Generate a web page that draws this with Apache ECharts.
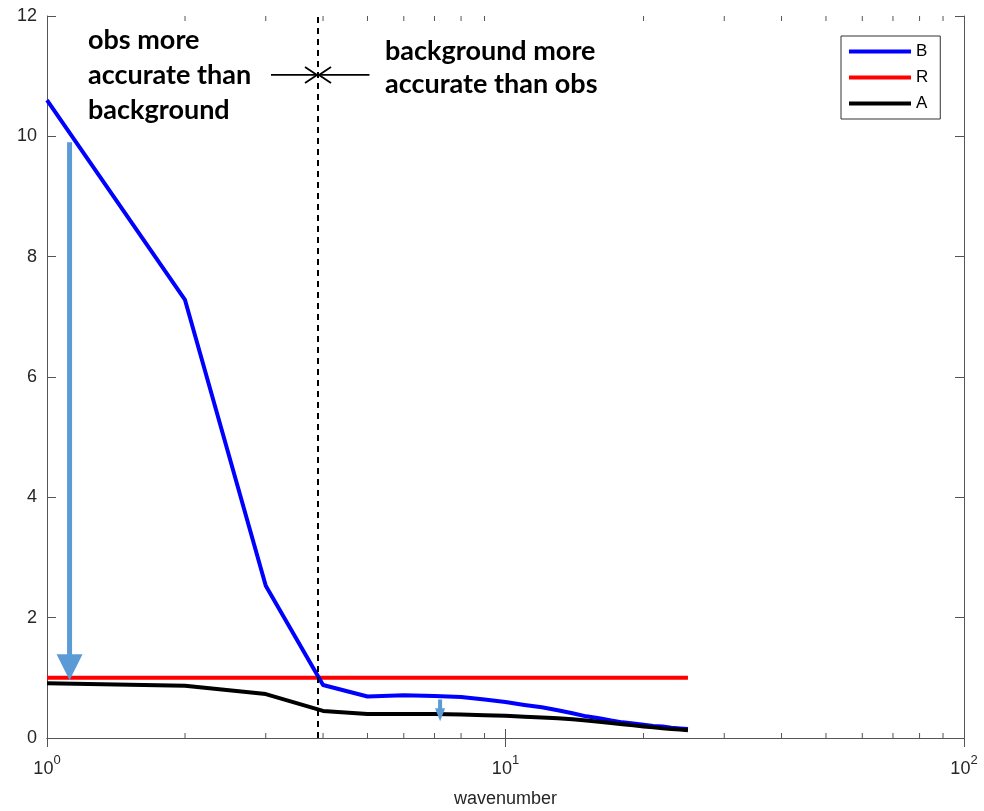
<!DOCTYPE html>
<html><head><meta charset="utf-8">
<script src="https://cdn.jsdelivr.net/npm/echarts@6/dist/echarts.min.js"></script>
<style>html,body{margin:0;padding:0;background:#fff}#c{width:984px;height:811px}</style>
</head><body><div id="c"></div>
<script>
// wavenumbers
const wavenumber = [1,2,3,4,5,6,7,8,9,10,11,12,13,14,15,16,17,18,19,20,21,22,23,24,25];
const seriesB = [10.6,7.28,2.53,0.88,0.69,0.71,0.70,0.68,0.64,0.60,0.55,0.51,0.46,0.41,0.36,0.33,0.29,0.26,0.24,0.22,0.20,0.19,0.17,0.16,0.15];
const seriesR = [1,1,1,1,1,1,1,1,1,1,1,1,1,1,1,1,1,1,1,1,1,1,1,1,1];
const seriesA = [0.91,0.87,0.73,0.45,0.40,0.40,0.40,0.39,0.38,0.37,0.355,0.34,0.33,0.31,0.29,0.27,0.25,0.23,0.21,0.19,0.18,0.16,0.15,0.14,0.13];
const yTicks = [0,2,4,6,8,10,12];
const minorTicks = [2,3,4,5,6,7,8,9,20,30,40,50,60,70,80,90];
const dividerX = 3.9;
// blue arrows: [x, yStart, yTip]
const blueArrows = [[1.12, 9.9, 0.96], [7.2, 0.64, 0.28]];
// annotation arrows at divider: [xFrom, xTo, y]
const annotArrows = [[3.08, 3.9, 11.02], [5.05, 3.9, 11.02]];
const legendNames = ['B','R','A'];

const chart = echarts.init(document.getElementById('c'));
const axisColor = '#555';
const labelColor = '#262626';
const pair = (xs, ys) => xs.map((x,i)=>[x, ys[i]]);

const option = {
  animation: false,
  grid: {left: 47, right: 20, top: 16, bottom: 73, show: false, containLabel: false, outerBoundsMode: 'none'},
  legend: {
    data: legendNames, orient: 'vertical', left: 841, top: 36,
    itemWidth: 62, itemHeight: 4, itemGap: 9, icon: 'rect',
    borderColor: '#333', borderWidth: 1, padding: [7, 12, 7, 8],
    textStyle: {fontFamily: 'Liberation Sans', fontSize: 17, color: '#000'},
    backgroundColor: '#fff'
  },
  xAxis: [{
    type: 'log', logBase: 10, min: 1, max: 100, position: 'bottom',
    name: 'wavenumber', nameLocation: 'middle', nameGap: 52,
    nameTextStyle: {fontFamily: 'Liberation Sans', fontSize: 18, color: labelColor},
    axisLine: {lineStyle: {color: axisColor, width: 1}},
    axisTick: {inside: true, length: 9, lineStyle: {color: axisColor}},
    splitLine: {show: false},
    axisLabel: {
      margin: 16,
      formatter: v => '{b|10}{s|' + Math.round(Math.log10(v)) + '}',
      rich: {
        b: {fontFamily: 'Liberation Sans', fontSize: 18, color: labelColor, verticalAlign: 'bottom', lineHeight: 24},
        s: {fontFamily: 'Liberation Sans', fontSize: 13, color: labelColor, verticalAlign: 'top', lineHeight: 24, padding: [0,0,10,0]}
      }
    }
  },{
    type: 'log', logBase: 10, min: 1, max: 100, position: 'top',
    axisLine: {lineStyle: {color: axisColor, width: 1}},
    axisTick: {inside: true, length: 9, lineStyle: {color: axisColor}},
    axisLabel: {show: false}, splitLine: {show: false}
  }],
  yAxis: [{
    type: 'value', min: 0, max: 12, interval: 2, position: 'left',
    axisLine: {show: true, lineStyle: {color: axisColor, width: 1}},
    axisTick: {show: true, inside: true, length: 9, lineStyle: {color: axisColor}},
    splitLine: {show: false},
    axisLabel: {fontFamily: 'Liberation Sans', fontSize: 18, color: labelColor, margin: 10}
  },{
    type: 'value', min: 0, max: 12, interval: 2, position: 'right',
    axisLine: {show: true, lineStyle: {color: axisColor, width: 1}},
    axisTick: {show: true, inside: true, length: 9, lineStyle: {color: axisColor}},
    splitLine: {show: false}, axisLabel: {show: false}
  }],
  series: [
    {name: 'B', type: 'line', data: pair(wavenumber, seriesB), showSymbol: false, symbol: 'none',
     lineStyle: {color: '#0000ff', width: 4, join: 'round'}, itemStyle: {color: '#0000ff'}, z: 3},
    {name: 'R', type: 'line', data: pair(wavenumber, seriesR), showSymbol: false, symbol: 'none',
     lineStyle: {color: '#ff0000', width: 4}, itemStyle: {color: '#ff0000'}, z: 2},
    {name: 'A', type: 'line', data: pair(wavenumber, seriesA), showSymbol: false, symbol: 'none',
     lineStyle: {color: '#000000', width: 4, join: 'round'}, itemStyle: {color: '#000000'}, z: 3,
     markLine: {silent: true, symbol: 'none', label: {show: false},
       lineStyle: {color: '#000', type: [6, 5], width: 2},
       data: [{xAxis: dividerX}]}},
    {name: 'minor', type: 'custom', data: minorTicks.map(v=>[v]), silent: true, z: 1,
     renderItem: (params, api) => {
       const b = api.coord([api.value(0), 0]);
       const t = api.coord([api.value(0), 12]);
       return {type: 'group', children: [
         {type: 'line', shape: {x1: b[0], y1: b[1], x2: b[0], y2: b[1]-5}, style: {stroke: axisColor, lineWidth: 1}},
         {type: 'line', shape: {x1: t[0], y1: t[1], x2: t[0], y2: t[1]+5}, style: {stroke: axisColor, lineWidth: 1}}
       ]};
     }},
    {name: 'bluearrows', type: 'custom', data: blueArrows, silent: true, z: 5,
     renderItem: (params, api) => {
       const p0 = api.coord([api.value(0), api.value(1)]);
       const p1 = api.coord([api.value(0), api.value(2)]);
       const big = params.dataIndex === 0;
       const hl = big ? 26 : 13, hw = big ? 13 : 5, sw = big ? 5 : 4;
       return {type: 'group', children: [
         {type: 'rect', shape: {x: p0[0]-sw/2, y: p0[1], width: sw, height: p1[1]-hl-p0[1]+1}, style: {fill: '#5b9bd5'}},
         {type: 'polygon', shape: {points: [[p1[0]-hw, p1[1]-hl], [p1[0]+hw, p1[1]-hl], [p1[0], p1[1]]]}, style: {fill: '#5b9bd5'}}
       ]};
     }},
    {name: 'annot', type: 'custom', data: annotArrows, silent: true, z: 5,
     renderItem: (params, api) => {
       const a = api.coord([api.value(0), api.value(2)]);
       const b = api.coord([api.value(1), api.value(2)]);
       const dir = b[0] > a[0] ? 1 : -1;
       const tip = [b[0] - dir*1, b[1]];
       return {type: 'group', children: [
         {type: 'line', shape: {x1: a[0], y1: a[1], x2: tip[0], y2: tip[1]}, style: {stroke: '#000', lineWidth: 1.8}},
         {type: 'polyline', shape: {points: [[tip[0]-dir*12, tip[1]-8], tip, [tip[0]-dir*12, tip[1]+8]]}, style: {stroke: '#000', lineWidth: 1.8, fill: null}}
       ]};
     }}
  ],
  graphic: [
    {type: 'text', left: 88, top: 23, style: {text: 'obs more\naccurate than\nbackground', fontFamily: 'Lato', fontWeight: 'bold', fontSize: 27, lineHeight: 35, fill: '#000'}},
    {type: 'text', left: 385, top: 35, style: {text: 'background more\naccurate than obs', fontFamily: 'Lato', fontWeight: 'bold', fontSize: 27, lineHeight: 33, fill: '#000'}}
  ]
};
chart.setOption(option);
</script></body></html>
